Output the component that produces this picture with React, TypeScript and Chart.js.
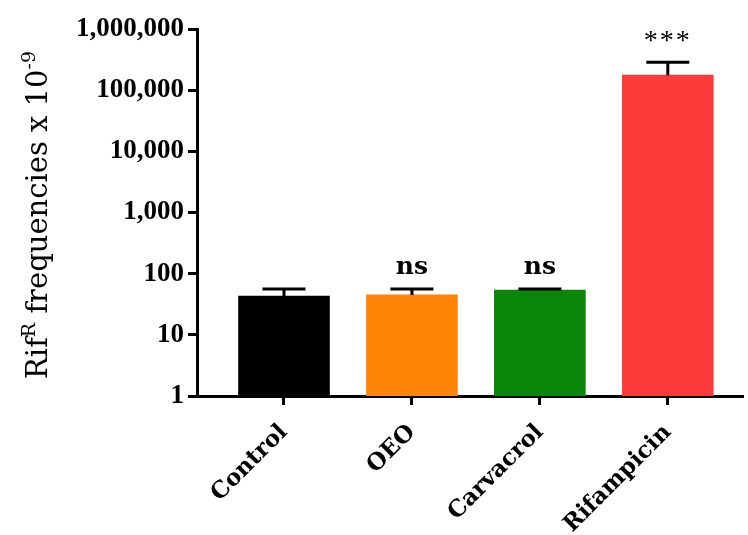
import React, { useEffect, useRef } from "react";
import { Chart, registerables } from "chart.js";

Chart.register(...registerables);

const categories = ["Control", "OEO", "Carvacrol", "Rifampicin"];
const means = [43, 45, 54, 176000];
const upperErrors = [56, 56, 56, 287000];
const significance = ["", "ns", "ns", "***"];
const barColors = ["#000000", "#ff8407", "#0a870a", "#ff3a3a"];
const yTickValues = [1, 10, 100, 1000, 10000, 100000, 1000000];

const W = 748;
const H = 535;

const errorBarPlugin = {
  id: "errorBars",
  afterDatasetsDraw(chart: any) {
    const ctx = chart.ctx;
    const xs = chart.scales.x;
    const ys = chart.scales.y;
    ctx.save();
    ctx.strokeStyle = "#000";
    ctx.lineWidth = 3;
    means.forEach((m, i) => {
      const x = xs.getPixelForValue(i + 1);
      const y0 = ys.getPixelForValue(m);
      const y1 = ys.getPixelForValue(upperErrors[i]);
      ctx.beginPath();
      ctx.moveTo(x, y0);
      ctx.lineTo(x, y1);
      ctx.moveTo(x - 21.5, y1);
      ctx.lineTo(x + 21.5, y1);
      ctx.stroke();
      const s = significance[i];
      if (s) {
        ctx.fillStyle = "#000";
        ctx.textAlign = "center";
        ctx.textBaseline = "middle";
        if (s === "ns") {
          ctx.font = "bold 25px 'DejaVu Serif'";
          ctx.fillText(s, x, y1 - 22);
        } else {
          ctx.font = "28px 'Liberation Serif'";
          (ctx as any).letterSpacing = "2px";
          ctx.fillText(s, x, y1 - 21);
          (ctx as any).letterSpacing = "0px";
        }
      }
    });
    ctx.restore();
  },
};

const yTitlePlugin = {
  id: "yTitle",
  afterDraw(chart: any) {
    const ctx = chart.ctx;
    const parts: [string, boolean][] = [
      ["Rif", false],
      ["R", true],
      [" frequencies x 10", false],
      ["-9", true],
    ];
    const mainFont = "29px 'DejaVu Serif'";
    const supFont = "19px 'DejaVu Serif'";
    ctx.save();
    let total = 0;
    const widths = parts.map(([t, sup]) => {
      ctx.font = sup ? supFont : mainFont;
      const w = ctx.measureText(t).width;
      total += w;
      return w;
    });
    ctx.translate(47, 215);
    ctx.rotate(-Math.PI / 2);
    ctx.fillStyle = "#000";
    ctx.textBaseline = "alphabetic";
    ctx.textAlign = "left";
    let cx = -total / 2;
    parts.forEach(([t, sup], i) => {
      ctx.font = sup ? supFont : mainFont;
      ctx.fillText(t, cx, sup ? -12 : 0);
      cx += widths[i];
    });
    ctx.restore();
  },
};

export default function App() {
  const ref = useRef<HTMLCanvasElement>(null);
  useEffect(() => {
    document.body.style.margin = "0";
    const canvas = ref.current!;
    const chart = new Chart(canvas, {
      type: "bar",
      data: {
        datasets: [
          {
            data: means.map((v, i) => ({ x: i + 1, y: v })),
            backgroundColor: barColors,
            borderWidth: 0,
            barThickness: 91,
          },
        ],
      },
      options: {
        responsive: false,
        animation: false,
        devicePixelRatio: 1,
        layout: { padding: { top: 29, right: 6, left: 0, bottom: 0 } },
        plugins: {
          legend: { display: false },
          tooltip: { enabled: false },
        },
        scales: {
          x: {
            type: "linear",
            min: 0.32,
            max: 4.58,
            offset: false,
            afterBuildTicks(scale: any) {
              scale.ticks = categories.map((_, i) => ({ value: i + 1 }));
            },
            afterFit(scale: any) {
              scale.height = H - 396;
            },
            grid: {
              display: true,
              offset: false,
              drawOnChartArea: false,
              drawTicks: true,
              tickLength: 9,
              color: "#000",
              lineWidth: 3,
            },
            border: { display: true, color: "#000", width: 3 },
            ticks: {
              autoSkip: false,
              maxRotation: 45,
              minRotation: 45,
              padding: 14,
              color: "#000",
              font: { family: "'DejaVu Serif'", size: 23, weight: "bold" },
              callback: (v: any) => categories[Math.round(Number(v)) - 1] ?? "",
            },
          },
          y: {
            type: "logarithmic",
            min: 1,
            max: 1000000,
            afterBuildTicks(scale: any) {
              scale.ticks = yTickValues.map((v) => ({ value: v }));
            },
            afterFit(scale: any) {
              scale.width = 197;
            },
            grid: {
              display: true,
              drawOnChartArea: false,
              drawTicks: true,
              tickLength: 9,
              color: "#000",
              lineWidth: 3,
            },
            border: { display: true, color: "#000", width: 3 },
            ticks: {
              autoSkip: false,
              padding: 4,
              color: "#000",
              font: { family: "'Liberation Serif'", size: 27, weight: "bold" },
              callback: (v: any) => Number(v).toLocaleString("en-US"),
            },
          },
        },
      },
      plugins: [errorBarPlugin, yTitlePlugin],
    } as any);
    return () => chart.destroy();
  }, []);
  return (
    <div style={{ position: "fixed", left: 0, top: 0, width: W, height: H, background: "#fff" }}>
      <canvas ref={ref} width={W} height={H} style={{ width: W, height: H }} />
    </div>
  );
}
